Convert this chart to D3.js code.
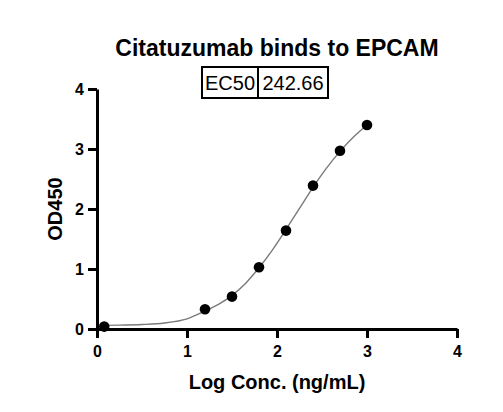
<!DOCTYPE html>
<html>
<head>
<meta charset="utf-8">
<script src="https://cdn.jsdelivr.net/npm/d3@7"></script>
<style>
  body { margin: 0; background: #fff; }
  svg text { font-family: "Liberation Sans", Arial, sans-serif; }
</style>
</head>
<body>
<script>
(function(){
    //measured points (log conc, OD450)
    var logConc = [0.08, 1.2, 1.5, 1.8, 2.1, 2.4, 2.7, 3.0];
    var od450 = [0.04, 0.33, 0.54, 1.03, 1.64, 2.39, 2.97, 3.40];

    //fitted curve
    var curveX = [0.08, 0.25, 0.5, 0.75, 1.0, 1.2, 1.35, 1.5, 1.65, 1.8, 1.95, 2.1, 2.25, 2.4, 2.55, 2.7, 2.85, 3.0];
    var curveY = [0.06, 0.065, 0.075, 0.1, 0.17, 0.3, 0.41, 0.56, 0.76, 1.02, 1.32, 1.66, 2.01, 2.36, 2.68, 2.96, 3.2, 3.4];

    var xTicks = [0, 1, 2, 3, 4];
    var yTicks = [0, 1, 2, 3, 4];

    var ec50Label = "EC50",
        ec50Value = "242.66";

    var width = 503,
        height = 412;

    var svg = d3.select("body")
        .append("svg")
        .attr("width", width)
        .attr("height", height);

    //scales
    var x = d3.scaleLinear().domain([0, 4]).range([97, 457]);
    var y = d3.scaleLinear().domain([0, 4]).range([329, 89]);

    //axes
    var xAxis = d3.axisBottom(x)
        .tickValues(xTicks)
        .tickSizeInner(9)
        .tickSizeOuter(0)
        .tickPadding(8)
        .tickFormat(d3.format("d"));

    var yAxis = d3.axisLeft(y)
        .tickValues(yTicks)
        .tickSizeInner(9)
        .tickSizeOuter(0)
        .tickPadding(4)
        .tickFormat(d3.format("d"));

    var gx = svg.append("g")
        .attr("class", "axis")
        .attr("transform", "translate(0," + y(0) + ")")
        .call(xAxis);

    var gy = svg.append("g")
        .attr("class", "axis")
        .attr("transform", "translate(" + x(0) + ",0)")
        .call(yAxis);

    [gx, gy].forEach(function(g){
        g.selectAll("path, line")
            .attr("stroke", "#000")
            .attr("stroke-width", 3);
        g.selectAll("text")
            .attr("fill", "#000")
            .style("font-size", "16px")
            .style("font-weight", "bold");
    });

    //fit curve
    var curveData = curveX.map(function(d, i){ return [d, curveY[i]]; });
    var line = d3.line()
        .x(function(d){ return x(d[0]); })
        .y(function(d){ return y(d[1]); })
        .curve(d3.curveMonotoneX);

    svg.append("path")
        .datum(curveData)
        .attr("d", line)
        .attr("fill", "none")
        .attr("stroke", "#7a7a7a")
        .attr("stroke-width", 1.4);

    //points
    svg.selectAll(".dot")
        .data(logConc)
        .enter()
        .append("circle")
        .attr("class", "dot")
        .attr("cx", function(d){ return x(d); })
        .attr("cy", function(d, i){ return y(od450[i]); })
        .attr("r", 5.3)
        .attr("fill", "#000");

    //title
    svg.append("text")
        .attr("x", 277)
        .attr("y", 56)
        .attr("text-anchor", "middle")
        .style("font-size", "23px")
        .style("font-weight", "bold")
        .text("Citatuzumab binds to EPCAM");

    //EC50 table
    var box = svg.append("g");
    box.append("rect")
        .attr("x", 202).attr("y", 67)
        .attr("width", 126).attr("height", 31)
        .attr("fill", "none")
        .attr("stroke", "#000")
        .attr("stroke-width", 2);
    box.append("line")
        .attr("x1", 258).attr("x2", 258)
        .attr("y1", 67).attr("y2", 98)
        .attr("stroke", "#000")
        .attr("stroke-width", 2);
    box.append("text")
        .attr("x", 230).attr("y", 90)
        .attr("text-anchor", "middle")
        .style("font-size", "20px")
        .text(ec50Label);
    box.append("text")
        .attr("x", 293).attr("y", 90)
        .attr("text-anchor", "middle")
        .style("font-size", "20px")
        .text(ec50Value);

    //axis titles
    svg.append("text")
        .attr("x", 277)
        .attr("y", 389)
        .attr("text-anchor", "middle")
        .style("font-size", "20px")
        .style("font-weight", "bold")
        .text("Log Conc. (ng/mL)");

    svg.append("text")
        .attr("transform", "translate(62,209) rotate(-90)")
        .attr("text-anchor", "middle")
        .style("font-size", "20px")
        .style("font-weight", "bold")
        .text("OD450");
})();
</script>
</body>
</html>
